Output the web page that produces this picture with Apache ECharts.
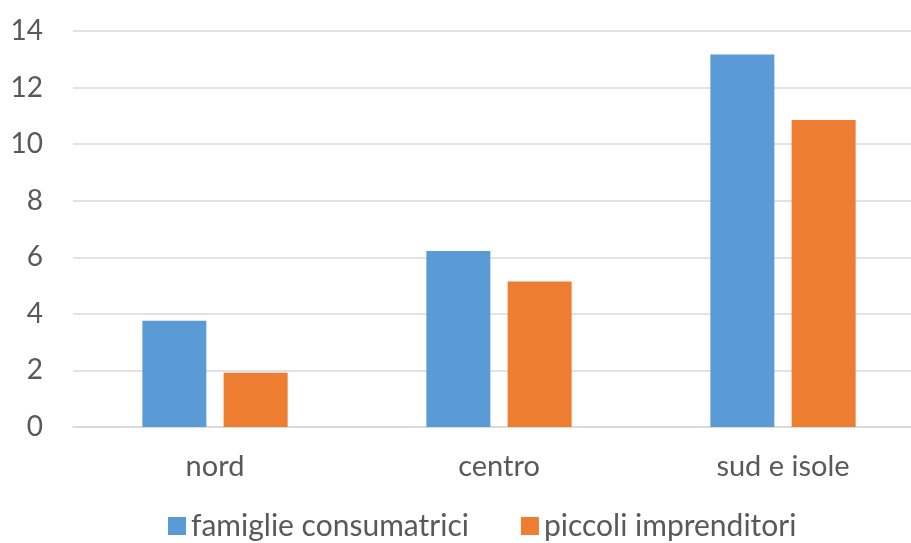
<!DOCTYPE html>
<html lang="it">
<head>
    <meta charset="UTF-8">
    <title>Grafico</title>
    <script src="https://cdn.jsdelivr.net/npm/echarts@6/dist/echarts.min.js"></script>
    <style>
        html, body { margin: 0; padding: 0; background: #fff; }
        #chart { width: 911px; height: 543px; }
    </style>
</head>
<body>
<div id="chart"></div>
<script>
    // dati
    var categorie = ['nord', 'centro', 'sud e isole'];
    var famiglie = [3.76, 6.22, 13.17];
    var imprenditori = [1.92, 5.14, 10.85];
    var nomiSerie = ['famiglie consumatrici', 'piccoli imprenditori'];

    var font = 'Lato';
    var grigio = '#595959';

    var myChart = echarts.init(document.getElementById('chart'));
    var option = {
        animation: false,
        textStyle: { fontFamily: font },
        legend: {
            data: nomiSerie,
            left: 163,
            top: 506,
            itemWidth: 18,
            itemHeight: 18,
            itemGap: 52,
            icon: 'rect',
            textStyle: { fontFamily: font, fontSize: 30, color: grigio, padding: [0, 0, 12, 0] }
        },
        grid: { left: 73, top: 31, width: 852, bottom: 116, outerBoundsMode: 'none', containLabel: false },
        xAxis: {
            type: 'category',
            data: categorie,
            axisLine: { lineStyle: { color: '#d9d9d9', width: 1.5 } },
            axisTick: { show: false },
            axisLabel: { fontFamily: font, fontSize: 29, color: grigio, margin: 25 }
        },
        yAxis: {
            type: 'value',
            min: 0,
            max: 14,
            interval: 2,
            axisLine: { show: false },
            axisTick: { show: false },
            axisLabel: { fontFamily: font, fontSize: 28, color: grigio, margin: 30 },
            splitLine: { lineStyle: { color: '#d9d9d9', width: 1.5 } }
        },
        series: [
            {
                name: nomiSerie[0],
                type: 'bar',
                data: famiglie,
                barWidth: 64,
                barGap: '27%',
                itemStyle: { color: '#5B9BD5' }
            },
            {
                name: nomiSerie[1],
                type: 'bar',
                data: imprenditori,
                barWidth: 64,
                itemStyle: { color: '#ED7D31' }
            }
        ]
    };
    myChart.setOption(option);
</script>
</body>
</html>
